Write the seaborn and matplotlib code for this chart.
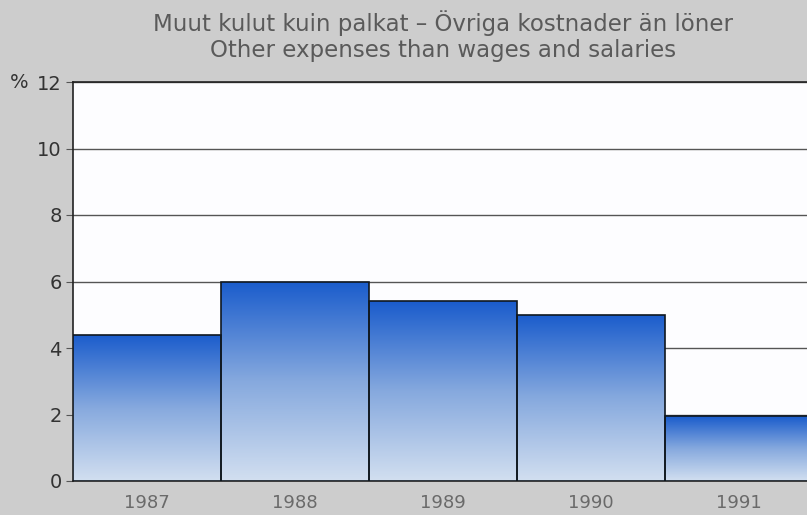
import numpy as np
import pandas as pd
import matplotlib
matplotlib.use("Agg")
import matplotlib.pyplot as plt
import seaborn as sns
from matplotlib.colors import LinearSegmentedColormap

years = ["1987", "1988", "1989", "1990", "1991"]
values = [4.4, 6.0, 5.4, 5.0, 1.95]
yticks = [0, 2, 4, 6, 8, 10, 12]
title_lines = ["Muut kulut kuin palkat – Övriga kostnader än löner",
               "Other expenses than wages and salaries"]

sns.set_theme(style="white")
plt.rcParams['font.family'] = ['DejaVu Sans']

W, H = 807, 515
fig = plt.figure(figsize=(W / 100, H / 100), dpi=100)
bg = "#cdcdcd"
fig.patch.set_facecolor(bg)

left, right, top, bottom = 73, 813, 82, 481
ax = fig.add_axes([left / W, 1 - bottom / H, (right - left) / W, (bottom - top) / H])
ax.set_facecolor("#fdfdff")

df = pd.DataFrame({"year": years, "value": values})
sns.barplot(data=df, x="year", y="value", ax=ax, width=1.0,
            color="#2a6ad0", edgecolor="#101820", linewidth=1.2, zorder=3)

cmap = LinearSegmentedColormap.from_list(
    "g", [(0.0, "#d2dff0"), (0.5, "#86a9de"), (1.0, "#1a5ccc")])
grad = np.linspace(0, 1, 256).reshape(-1, 1)
for p in ax.patches:
    x0, y0 = p.get_x(), p.get_y()
    w, h = p.get_width(), p.get_height()
    im = ax.imshow(grad, cmap=cmap, origin="lower", aspect="auto",
                   extent=[x0, x0 + w, y0, y0 + h], zorder=3.5)
    im.set_clip_path(p)
    p.set_facecolor("none")
    p.set_zorder(4)

ax.set_xlim(-0.5, len(years) - 0.5)
ax.set_ylim(0, 12)
ax.set_yticks(yticks)
ax.set_yticklabels([str(t) for t in yticks], fontsize=14, color="#333333")
ax.yaxis.grid(True, color="#555555", linewidth=1.0, zorder=1)
ax.set_axisbelow(True)
ax.tick_params(axis="y", left=True, length=5, width=0.8, color="#555555", pad=3)
ax.tick_params(axis="x", bottom=False, pad=3, labelsize=13, labelcolor="#6a6a6a")
ax.set_xlabel("")
ax.set_ylabel("")
for s in ["left", "top", "bottom"]:
    ax.spines[s].set_visible(True)
    ax.spines[s].set_color("#222222")
    ax.spines[s].set_linewidth(1.2)
ax.spines["right"].set_visible(False)

fig.text(10 / W, 1 - 82 / H, "%", fontsize=14, color="#333333", va="center", ha="left")
fig.text(443 / W, 1 - 23 / H, title_lines[0], fontsize=16.5, color="#5a5a5a",
         ha="center", va="center")
fig.text(443 / W, 1 - 51 / H, title_lines[1], fontsize=16.5, color="#5a5a5a",
         ha="center", va="center")

fig.savefig("out.png", dpi=100, facecolor=bg)
